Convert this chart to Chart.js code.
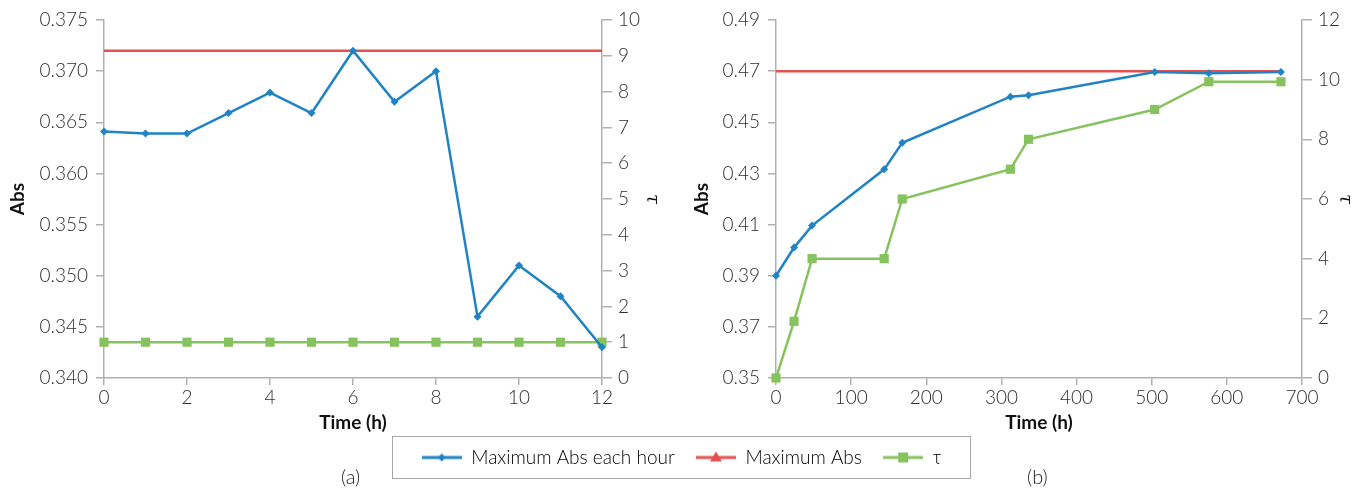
<!DOCTYPE html>
<html>
<head>
<meta charset="utf-8">
<script src="https://cdn.jsdelivr.net/npm/chart.js@4.4.1/dist/chart.umd.min.js"></script>
<style>
  body { margin: 0; background: #fff; width: 1360px; height: 491px; position: relative; overflow: hidden; }
  canvas { position: absolute; }
  #chartA { left: 0; top: 0; }
  #chartB { left: 680px; top: 0; }
  #legendBox { position: absolute; left: 392px; top: 436px; width: 577px; height: 41px; border: 1.5px solid #a6a6a6; overflow: hidden; }
  #legend { left: 0; top: 0; }
  .tag { position: absolute; top: 464px; font: 300 20px Lato, sans-serif; color: #222; }
</style>
</head>
<body>
<canvas id="chartA" width="680" height="440"></canvas>
<canvas id="chartB" width="680" height="440"></canvas>
<div id="legendBox"><canvas id="legend" width="577" height="100"></canvas></div>
<div class="tag" style="left:341px">(a)</div>
<div class="tag" style="left:1027px">(b)</div>
<script>
// series names (legend)
var seriesNames = ['Maximum Abs each hour', 'Maximum Abs', 'τ'];
var colors = ['#1f83c5', '#e4524f', '#86c35e'];

// panel (a): hourly readings, 0-12 h
var hoursA = [0, 1, 2, 3, 4, 5, 6, 7, 8, 9, 10, 11, 12];
var absA = [0.3641, 0.3639, 0.3639, 0.3659, 0.3679, 0.3659, 0.3720, 0.3670, 0.3700, 0.3460, 0.3510, 0.3480, 0.3430];
var maxAbsA = [0.372, 0.372, 0.372, 0.372, 0.372, 0.372, 0.372, 0.372, 0.372, 0.372, 0.372, 0.372, 0.372];
var tauA = [1, 1, 1, 1, 1, 1, 1, 1, 1, 1, 1, 1, 1];

// panel (b): 0-672 h
var hoursB = [0, 24, 48, 144, 168, 312, 336, 504, 576, 672];
var absB = [0.3900, 0.4010, 0.4096, 0.4316, 0.4420, 0.4600, 0.4606, 0.4697, 0.4692, 0.4697];
var maxAbsB = [0.470, 0.470, 0.470, 0.470, 0.470, 0.470, 0.470, 0.470, 0.470, 0.470];
var tauB = [0, 1.9, 4, 4, 6, 7, 8, 9, 9.93, 9.93];

Chart.defaults.font.family = 'Lato';
Chart.defaults.font.size = 19;
Chart.defaults.font.weight = '300';
Chart.defaults.color = '#2e2e2e';

var axisGray = '#b0b0b0';

function pairs(xs, ys) {
    var out = [];
    for (var i = 0; i < xs.length; i++) out.push({ x: xs[i], y: ys[i] });
    return out;
}

function fixW(w) { return function (s) { s.width = w; }; }
function fixH(h) { return function (s) { s.height = h; }; }

// common axis look: no grid, grey axis line, ticks outside
function axisBase(tickLen) {
    return {
        grid: { drawOnChartArea: false, drawTicks: true, tickLength: tickLen, color: axisGray, lineWidth: 1.5 },
        border: { display: true, color: axisGray, width: 1.5 }
    };
}

var titleFont = { size: 19, weight: 'bold' };

function makePanel(id, xs, abs, maxAbs, tau, cfg) {
    var ctx = document.getElementById(id).getContext('2d');
    var xAxis = axisBase(7);
    xAxis.type = 'linear';
    xAxis.min = cfg.xMin; xAxis.max = cfg.xMax;
    xAxis.ticks = { stepSize: cfg.xStep, padding: 1 };
    xAxis.title = { display: true, text: 'Time (h)', font: titleFont, color: '#111', padding: { top: 0, bottom: 6 } };
    xAxis.afterFit = fixH(62);

    var yAxis = axisBase(8);
    yAxis.position = 'left';
    yAxis.min = cfg.yMin; yAxis.max = cfg.yMax;
    yAxis.ticks = { stepSize: cfg.yStep, padding: 8, callback: function (v) { return v.toFixed(cfg.yDec); } };
    yAxis.title = { display: true, text: 'Abs', font: titleFont, color: '#111', padding: { top: cfg.absPad, bottom: 0 } };
    yAxis.afterFit = fixW(cfg.leftW);

    var y2Axis = axisBase(10);
    y2Axis.position = 'right';
    y2Axis.min = 0; y2Axis.max = cfg.tauMax;
    y2Axis.ticks = { stepSize: cfg.tauStep, padding: 6 };
    y2Axis.title = { display: true, text: 'τ', font: { size: 18, family: 'DejaVu Serif', style: 'italic' }, color: '#111', padding: { top: cfg.tauPad, bottom: 0 } };
    y2Axis.afterFit = fixW(cfg.rightW);

    return new Chart(ctx, {
        type: 'line',
        data: {
            datasets: [
                {
                    label: seriesNames[0], data: pairs(xs, abs), yAxisID: 'y',
                    borderColor: colors[0], backgroundColor: colors[0], borderWidth: 2.5,
                    pointStyle: 'rectRot', pointRadius: 4, pointBorderWidth: 0, clip: false, order: 1
                },
                {
                    label: seriesNames[1], data: pairs(xs, maxAbs), yAxisID: 'y',
                    borderColor: colors[1], backgroundColor: colors[1], borderWidth: 2.5,
                    pointRadius: 0, clip: false, order: 2
                },
                {
                    label: seriesNames[2], data: pairs(xs, tau), yAxisID: 'y2',
                    borderColor: colors[2], backgroundColor: colors[2], borderWidth: 2.5,
                    pointStyle: 'rect', pointRadius: 6.5, pointBorderWidth: 0, clip: false, order: 3
                }
            ]
        },
        options: {
            responsive: false,
            animation: false,
            layout: { padding: { top: 20, left: 0, right: 0, bottom: 0 } },
            plugins: { legend: { display: false }, tooltip: { enabled: false } },
            scales: { x: xAxis, y: yAxis, y2: y2Axis }
        }
    });
}

makePanel('chartA', hoursA, absA, maxAbsA, tauA, {
    xMin: 0, xMax: 12, xStep: 2,
    yMin: 0.340, yMax: 0.375, yStep: 0.005, yDec: 3,
    tauMax: 10, tauStep: 1,
    leftW: 104, rightW: 78, absPad: 6, tauPad: 18
});

makePanel('chartB', hoursB, absB, maxAbsB, tauB, {
    xMin: 0, xMax: 700, xStep: 100,
    yMin: 0.35, yMax: 0.49, yStep: 0.02, yDec: 2,
    tauMax: 12, tauStep: 2,
    leftW: 96, rightW: 58, absPad: 10, tauPad: 5
});

// legend symbols: line with marker in the middle
function legendSymbol(color, shape) {
    var c = document.createElement('canvas');
    c.width = 40; c.height = 14;
    var g = c.getContext('2d');
    g.strokeStyle = color; g.fillStyle = color; g.lineWidth = 3;
    g.beginPath(); g.moveTo(0, 7); g.lineTo(40, 7); g.stroke();
    g.beginPath();
    if (shape === 'diamond') {
        g.moveTo(20, 3); g.lineTo(24, 7); g.lineTo(20, 11); g.lineTo(16, 7);
    } else if (shape === 'triangle') {
        g.moveTo(20, 1); g.lineTo(26, 11); g.lineTo(14, 11);
    } else {
        g.rect(15, 2, 10, 10);
    }
    g.closePath(); g.fill();
    return c;
}
var legendShapes = ['diamond', 'triangle', 'square'];

new Chart(document.getElementById('legend').getContext('2d'), {
    type: 'line',
    data: { datasets: [] },
    options: {
        responsive: false,
        animation: false,
        layout: { padding: { top: 0 } },
        scales: { x: { display: false }, y: { display: false } },
        plugins: {
            tooltip: { enabled: false },
            legend: {
                display: true,
                labels: {
                    usePointStyle: true,
                    pointStyleWidth: 40,
                    padding: 11,
                    color: '#333',
                    font: { size: 19, weight: '300' },
                    generateLabels: function () {
                        return seriesNames.map(function (name, i) {
                            return {
                                // a little extra room after the first two items
                                text: i < 2 ? name + '  ' : name,
                                pointStyle: legendSymbol(colors[i], legendShapes[i]),
                                fillStyle: colors[i], strokeStyle: colors[i], lineWidth: 0,
                                hidden: false, datasetIndex: i
                            };
                        });
                    }
                }
            }
        }
    }
});
</script>
</body>
</html>
